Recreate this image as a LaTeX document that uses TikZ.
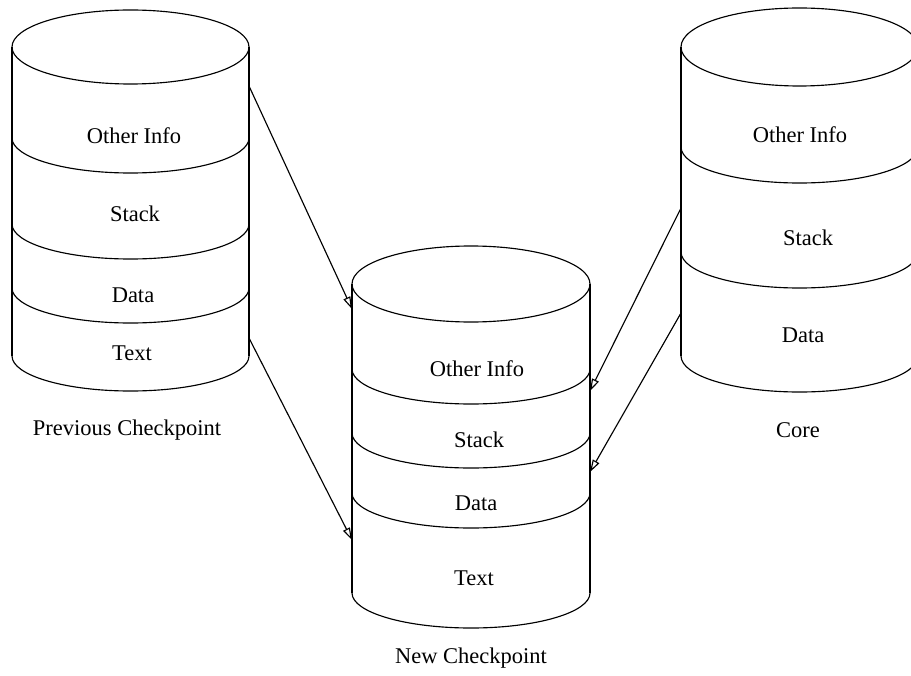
\documentclass[tikz,border=0pt]{standalone}
\usepackage{fontspec}
\setmainfont{Liberation Serif}
\usetikzlibrary{arrows.meta}

\begin{document}
\begin{tikzpicture}[x=0.02cm,y=-0.02cm,line width=0.65pt,
    txt/.style = {font=\fontsize{12.8}{14}\selectfont, inner sep=0pt},
    link/.style = {-{Triangle[open,length=7pt,width=4.2pt]}}]
    \useasboundingbox (0,0) rectangle (911,675);

    % previous checkpoint
    \draw (130.5,47) ellipse [x radius=118.5, y radius=37];
    \draw (12,47) -- (12,356);
    \draw (249,47) -- (249,356);
    \foreach \y in {138,224,288,356}
        \draw (12,\y) arc [start angle=180, end angle=0, x radius=118.5, y radius=35];
    \node[txt] (pother) at (134,136) {Other Info};
    \node[txt] (pstack) at (135,214) {Stack};
    \node[txt] (pdata) at (133,295) {Data};
    \node[txt] (ptext) at (132,353) {Text};
    \node[txt] (prev) at (127,430) {Previous Checkpoint};

    % new checkpoint
    \draw (471,284) ellipse [x radius=119, y radius=38];
    \draw (352,284) -- (352,593);
    \draw (590,284) -- (590,593);
    \foreach \y in {369,433,493,593}
        \draw (352,\y) arc [start angle=180, end angle=0, x radius=119, y radius=35];
    \node[txt] (nother) at (477,369) {Other Info};
    \node[txt] (nstack) at (479,440) {Stack};
    \node[txt] (ndata) at (476,503) {Data};
    \node[txt] (ntext) at (474,578) {Text};
    \node[txt] (new) at (471,658) {New Checkpoint};

    % core
    \draw (799.5,47) ellipse [x radius=118.5, y radius=39];
    \draw (681,47) -- (681,356);
    \draw (918,47) -- (918,356);
    \foreach \y in {147,252,356}
        \draw (681,\y) arc [start angle=180, end angle=0, x radius=118.5, y radius=36];
    \node[txt] (cother) at (800,135) {Other Info};
    \node[txt] (cstack) at (808,238) {Stack};
    \node[txt] (cdata) at (803,335) {Data};
    \node[txt] (core) at (798,430) {Core};

    \coordinate (p1) at (249,86);
    \coordinate (p2) at (249,338);
    \coordinate (n1) at (352,309);
    \coordinate (n2) at (352,540);
    \coordinate (n3) at (590,391);
    \coordinate (n4) at (590,472);
    \coordinate (c1) at (681,208);
    \coordinate (c2) at (681,313);

    \draw[link] (p1) -- (n1);
    \draw[link] (p2) -- (n2);
    \draw[link] (c1) -- (n3);
    \draw[link] (c2) -- (n4);
\end{tikzpicture}
\end{document}
